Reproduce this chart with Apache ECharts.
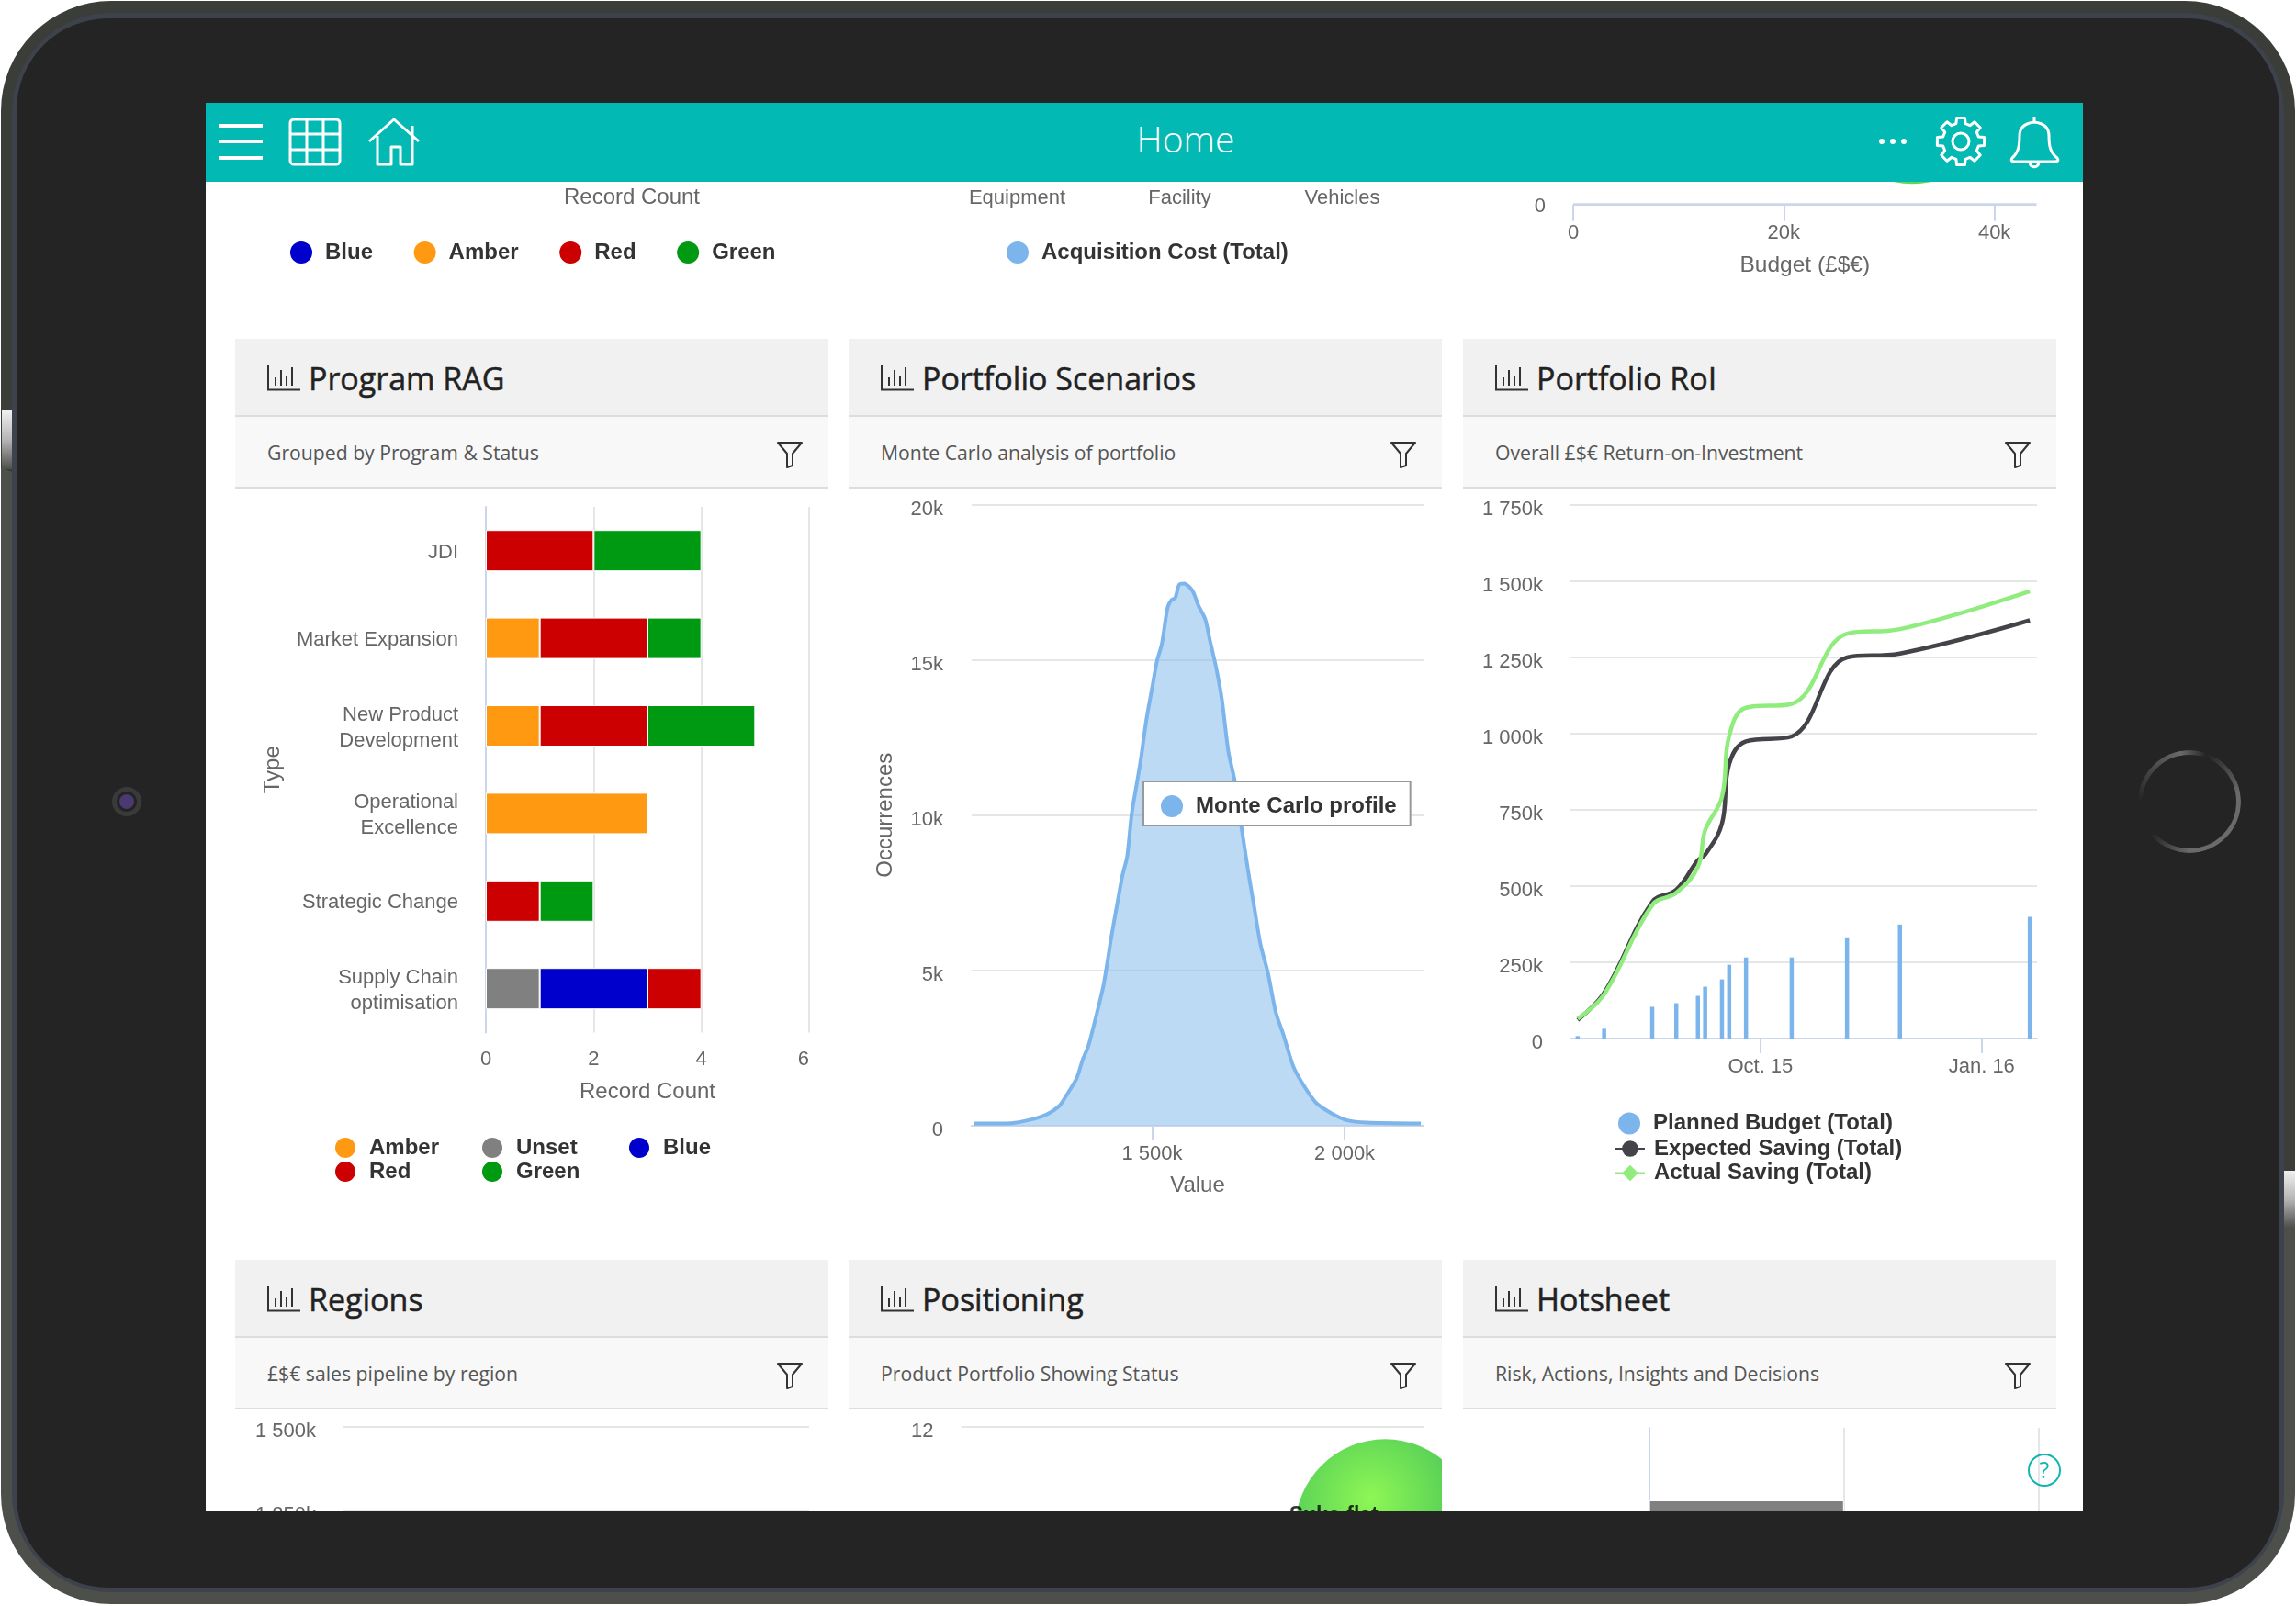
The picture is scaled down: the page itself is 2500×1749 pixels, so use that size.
<!DOCTYPE html>
<html>
<head>
<meta charset="utf-8">
<title>Home</title>
<script src="https://cdn.jsdelivr.net/npm/echarts@6/dist/echarts.min.js"></script>
<style>
html, body { margin: 0; padding: 0; background: #fff; }
#page { position: absolute; left: 0; top: 0; width: 2500px; height: 1749px; overflow: hidden; background: #fff; }
.abs { position: absolute; }
#shell { left: 1px; top: 1px; width: 2498px; height: 1746px; border-radius: 120px; background: linear-gradient(198.3deg, #3a3d38 51.9%, #4d4f4b 51.9%); }
#stripe { left: 13px; top: 14px; width: 2474px; height: 1720px; border-radius: 108px; background: #3e424c; }
#bezel { left: 18px; top: 20px; width: 2464px; height: 1709px; border-radius: 100px; background: #242424; }
#btnL { left: 2px; top: 447px; width: 11px; height: 64px; background: linear-gradient(180deg, #f0f0f0, #b5b5b5 50%, #4d4f4b); }
#btnR { left: 2487px; top: 1275px; width: 12px; height: 62px; background: linear-gradient(180deg, #f0f0f0, #b5b5b5 50%, #4d4f4b); }
#cam { left: 122px; top: 857px; width: 32px; height: 32px; border-radius: 50%; background: #3a3a3a; }
#cam div { position: absolute; left: 8px; top: 8px; width: 16px; height: 16px; border-radius: 50%; background: #4a3a72; box-shadow: 0 0 0 3px #232323; }
#homeBtn { left: 2328px; top: 817px; width: 112px; height: 112px; border-radius: 50%; box-sizing: border-box; border: 5px solid #6a6a6a;
  -webkit-mask: conic-gradient(from 20deg, transparent 0, #000 60deg, #000 160deg, transparent 210deg, transparent 250deg, #000 330deg, transparent 360deg); }
#screen { left: 224px; top: 112px; width: 2044px; height: 1534px; overflow: hidden; background: #fff; }
#bar { left: 0; top: 0; width: 2044px; height: 86px; background: #02b9b3; z-index: 5; }
#bar svg { position: absolute; left: 0; top: 0; }
#homeTitle { left: 0; width: 2134px; top: 0; text-align: center; color: #fff; font: 300 39px/78px 'Open Sans', Lato, sans-serif; }
.phead { box-sizing: border-box; height: 85px; background: #f1f1f1; border-bottom: 2px solid #ddd; }
.psub { box-sizing: border-box; height: 78px; background: #f8f8f8; border-bottom: 2px solid #ddd; }
.ptitle { position: absolute; left: 80px; top: 13px; color: #222; font: 400 34px/60px 'Open Sans', sans-serif; -webkit-text-stroke: 0.5px #222; white-space: nowrap; }
.ptext { position: absolute; left: 35px; top: 85px; color: #555; font: 400 21.2px/77px 'Open Sans', sans-serif; white-space: nowrap; }
.chart { position: absolute; overflow: hidden; }
</style>
</head>
<body>
<div id="page">
  <div class="abs" id="shell"></div>
  <div class="abs" id="stripe"></div>
  <div class="abs" id="bezel"></div>
  <div class="abs" id="btnL"></div>
  <div class="abs" id="btnR"></div>
  <div class="abs" id="cam"><div></div></div>
  <div class="abs" id="homeBtn"></div>
  <div class="abs" id="screen">
    <div class="abs" id="bar">
      <svg id="barIcons" width="2044" height="86" fill="none" stroke="#fff" stroke-width="3"></svg>
      <div class="abs" id="homeTitle">Home</div>
    </div>
  </div>
</div>
<script>
'use strict'

// Program RAG
var ragCategories = ['JDI', 'Market Expansion', 'New Product\nDevelopment', 'Operational\nExcellence', 'Strategic Change', 'Supply Chain\noptimisation']
var ragUnset = [null, null, null, null, null, 1]
var ragAmber = [null, 1, 1, 3, null, null]
var ragBlue = [null, null, null, null, null, 2]
var ragRed = [2, 2, 2, null, 1, 1]
var ragGreen = [2, 1, 2, null, 1, null]

// Portfolio Scenarios, value in k and number of occurrences
var monteValues = [1038, 1134, 1184, 1224, 1259, 1279, 1304, 1319, 1334, 1354, 1374, 1394, 1410, 1423, 1435, 1447, 1460, 1470, 1485, 1500, 1513, 1525, 1540, 1550, 1560, 1570, 1583, 1605, 1620, 1638, 1651, 1666, 1681, 1698, 1716, 1731, 1751, 1766, 1781, 1801, 1821, 1841, 1867, 1897, 1927, 1967, 2007, 2057, 2198]
var monteCounts = [60, 70, 180, 340, 630, 1000, 1520, 2100, 2550, 3500, 4540, 6080, 7190, 8070, 8660, 10060, 11020, 11750, 13080, 14110, 15000, 15510, 16690, 16940, 17010, 17430, 17470, 17230, 16760, 16320, 15580, 14770, 13740, 12050, 11020, 9690, 8070, 6970, 5860, 4900, 3650, 2920, 1890, 1220, 710, 380, 160, 90, 60]
var monteTicks = [1500, 2000]

// Portfolio RoI, all in k
var roiDates = ['2015-07-17', '2015-07-28', '2015-08-17', '2015-08-27', '2015-09-05', '2015-09-08', '2015-09-15', '2015-09-18', '2015-09-25', '2015-10-14', '2015-11-06', '2015-11-28', '2016-01-21']
var roiPlanned = [8, 32, 104, 116, 140, 170, 194, 242, 266, 266, 332, 374, 399]
var roiExpected = [61, 150, 448, 488, 585, 603, 705, 900, 975, 991, 1250, 1263, 1372]
var roiActual = [65, 145, 438, 478, 563, 683, 793, 993, 1085, 1098, 1328, 1343, 1467]
var roiTicks = ['2015-10-01', '2016-01-01']
var roiTickLabels = ['Oct. 15', 'Jan. 16']

// fragments at the top and bottom of the scrolled page
var costCategories = ['Equipment', 'Facility', 'Vehicles']
var budgetTicks = [0, 20000, 40000]
var budgetBubble = [[32200, 6.6]]
var positionBubble = [[91.7, 10.14, 'Suko flat']]
var hotsheetValues = [1, null, null, null]

var panels = [
    ['Program RAG', 'Grouped by Program & Status', 256, 369],
    ['Portfolio Scenarios', 'Monte Carlo analysis of portfolio', 924, 369],
    ['Portfolio RoI', 'Overall £$€ Return-on-Investment', 1593, 369],
    ['Regions', '£$€ sales pipeline by region', 256, 1372],
    ['Positioning', 'Product Portfolio Showing Status', 924, 1372],
    ['Hotsheet', 'Risk, Actions, Insights and Decisions', 1593, 1372]
]

var AXIS = '#ccd6eb'
var GRID = '#e6e6e6'
var LABEL = '#666666'
var FONT = "'Liberation Sans', Arial, sans-serif"
var screenEl = document.getElementById('screen')

function panel(p) {
    var el = document.createElement('div')
    el.className = 'abs'
    el.style.left = (p[2] - 224) + 'px'
    el.style.top = (p[3] - 112) + 'px'
    el.style.width = '646px'
    el.innerHTML = '<div class="phead"></div><div class="psub"></div>' +
        '<svg class="abs" style="left:35px;top:29px" width="36" height="28" fill="none" stroke="#333" stroke-width="2">' +
        '<path d="M1 0V26.5H36M9 22V13M15 22V5M21 22V11M27 22V2"/></svg>' +
        '<div class="ptitle"></div><div class="ptext"></div>' +
        '<svg class="abs" style="left:589px;top:111px" width="30" height="30" fill="none" stroke="#333" stroke-width="2">' +
        '<path d="M2 2H28L18 14V27L12 29V14Z" stroke-linejoin="round"/></svg>'
    el.querySelector('.ptitle').textContent = p[0]
    el.querySelector('.ptext').textContent = p[1]
    screenEl.appendChild(el)
}

// left and top in page pixels, same numbers
function chart(left, top, width, height, option) {
    var el = document.createElement('div')
    el.className = 'chart'
    el.style.left = (left - 224) + 'px'
    el.style.top = (top - 112) + 'px'
    el.style.width = width + 'px'
    el.style.height = height + 'px'
    screenEl.appendChild(el)
    option.animation = false
    option.textStyle = { fontFamily: FONT }
    echarts.init(el).setOption(option)
}

function legendText(left) {
    return { color: '#333', fontWeight: 'bold', fontSize: 24, fontFamily: FONT, padding: [6, 0, 0, left] }
}

function legendStyle(extra) {
    var o = {
        orient: 'vertical', icon: 'circle', itemWidth: 24, itemHeight: 24, itemGap: 0, selectedMode: false,
        padding: 0, textStyle: legendText(9)
    }
    for (var k in extra) o[k] = extra[k]
    return o
}

function fmtK(v) {
    if (v == 0) return '0'
    if (v < 1000) return v + 'k'
    return Math.floor(v / 1000) + ' ' + String(v % 1000).padStart(3, '0') + 'k'
}

// the value labels sit a few pixels under their grid line
function valueLabels(margin, fmt) {
    return { color: LABEL, fontSize: 22, margin: margin, formatter: fmt, verticalAlign: 'top', lineHeight: 10 }
}

var noTick = { show: false }
var gridLine = { show: true, lineStyle: { color: GRID, width: 2 } }
var nameFont = { color: LABEL, fontSize: 24 }

function icons() {
    var s = ''
    // menu, table, house
    s += '<path stroke-width="4" d="M14 25H62M14 42H62M14 60H62"/>'
    s += '<rect x="92" y="18" width="54" height="49" rx="4"/><path d="M92 34H146M92 51H146M110 18V67M128 18V67"/>'
    s += '<path d="M178 42L205 18L232 42M187 36V67H202V48H212V67H225V25" stroke-linejoin="round"/>'
    // dots
    s += '<circle cx="1825" cy="42" r="3" fill="#fff" stroke="none"/><circle cx="1837" cy="42" r="3" fill="#fff" stroke="none"/><circle cx="1849" cy="42" r="3" fill="#fff" stroke="none"/>'
    // gear
    var d = ''
    for (var i = 0; i < 8; i++) {
        var a = i * Math.PI / 4
        var pts = [[-0.26, 20], [-0.17, 26], [0.17, 26], [0.26, 20]]
        pts.forEach(function (q, j) {
            d += (i == 0 && j == 0 ? 'M' : 'L') + (1911 + q[1] * Math.cos(a + q[0])).toFixed(1) + ' ' + (42 + q[1] * Math.sin(a + q[0])).toFixed(1)
        })
    }
    s += '<path d="' + d + 'Z" stroke-linejoin="round"/><circle cx="1911" cy="42" r="9"/>'
    // bell
    s += '<path d="M1967 60C1974 54 1975 46 1975 36C1975 26 1982 22 1991 21C2000 22 2007 26 2007 36C2007 46 2008 54 2016 60C2018 63 2016 64 2013 64H1970C1967 64 1965 63 1967 60Z" stroke-linejoin="round"/>'
    s += '<path d="M1991 15V21M1986 66C1988 71 1994 71 1996 66"/>'
    document.getElementById('barIcons').innerHTML = s
}

icons()
panels.forEach(panel)

// top fragment of the status chart, its plot sits behind the header
chart(256, 112, 646, 200, {
    grid: { left: 272, width: 320, top: 0, height: 53 },
    xAxis: { type: 'value', min: 0, max: 6, axisLabel: { show: false }, splitLine: { show: false }, name: 'Record Count', nameLocation: 'middle', nameGap: 38, nameTextStyle: nameFont },
    yAxis: { type: 'category', data: [], axisLine: { show: false }, axisLabel: { show: false }, axisTick: noTick },
    legend: legendStyle({ orient: 'horizontal', left: 60, top: 151, itemGap: 44.6, data: ['Blue', 'Amber', 'Red', 'Green'] }),
    series: [
        { name: 'Blue', type: 'bar', stack: 'a', data: [], itemStyle: { color: '#0000cc' } },
        { name: 'Amber', type: 'bar', stack: 'a', data: [], itemStyle: { color: '#ff9912' } },
        { name: 'Red', type: 'bar', stack: 'a', data: [], itemStyle: { color: '#cc0000' } },
        { name: 'Green', type: 'bar', stack: 'a', data: [], itemStyle: { color: '#009912' } }
    ]
})

chart(924, 112, 646, 200, {
    grid: { left: 95, width: 531, top: 0, height: 68 },
    xAxis: { type: 'category', data: costCategories, axisLine: { show: false }, axisTick: noTick, axisLabel: { color: LABEL, fontSize: 22, margin: 25 } },
    yAxis: { type: 'value', show: false },
    legend: legendStyle({ left: 172, top: 151, data: ['Acquisition Cost (Total)'] }),
    series: [{ name: 'Acquisition Cost (Total)', type: 'bar', data: [], itemStyle: { color: '#7cb5ec' } }]
})

chart(1593, 0, 645, 320, {
    grid: { left: 120, width: 504.5, top: 0, height: 222.7 },
    xAxis: {
        type: 'value', min: 0, max: 44000, axisLine: { show: false }, splitLine: { show: false },
        axisTick: { show: true, length: 18, customValues: budgetTicks, lineStyle: { color: AXIS, width: 2 } },
        axisLabel: { color: LABEL, fontSize: 22, margin: 20, customValues: budgetTicks, formatter: function (v) { return v == 0 ? '0' : v / 1000 + 'k' } },
        name: 'Budget (£$€)', nameLocation: 'middle', nameGap: 54, nameTextStyle: { color: LABEL, fontSize: 24.5 }
    },
    yAxis: {
        type: 'value', min: 0, max: 12, splitLine: { show: false }, axisTick: noTick,
        axisLine: { show: false }, axisLabel: { color: LABEL, fontSize: 22, margin: 30, customValues: [0], verticalAlign: 'top', lineHeight: 4 }
    },
    series: [
        { type: 'line', data: [[0, 0], [44000, 0]], symbol: 'none', lineStyle: { color: AXIS, width: 3 } },
        { type: 'scatter', clip: false, data: budgetBubble, symbolSize: 200, itemStyle: { color: '#36cc2e' } }
    ]
})

// Program RAG, the second grid only carries the category labels 2px lower than the bars
chart(256, 530, 646, 800, {
    grid: [
        { left: 273, width: 352, top: 22, height: 572.4 },
        { left: 273, width: 352, top: 24, height: 572.4 }
    ],
    xAxis: [
        {
            type: 'value', min: 0, max: 6, interval: 2, splitLine: gridLine, axisLine: { show: false }, axisTick: noTick,
            axisLabel: { color: LABEL, fontSize: 22, margin: 19, alignMaxLabel: 'right' },
            name: 'Record Count', nameLocation: 'middle', nameGap: 53, nameTextStyle: nameFont
        },
        { type: 'value', gridIndex: 1, show: false }
    ],
    yAxis: [
        {
            type: 'category', inverse: true, data: ragCategories, axisTick: noTick,
            axisLine: { lineStyle: { color: AXIS, width: 2 } }, axisLabel: { show: false },
            name: 'Type', nameLocation: 'middle', nameGap: 220, nameTextStyle: nameFont
        },
        {
            type: 'category', gridIndex: 1, inverse: true, data: ragCategories, axisTick: noTick, axisLine: { show: false },
            axisLabel: { color: LABEL, fontSize: 22, lineHeight: 28, margin: 30 }
        }
    ],
    legend: [
        legendStyle({ left: 107, top: 707, data: ['Amber', 'Red'] }),
        legendStyle({ left: 267, top: 707, data: ['Unset', 'Green'] }),
        legendStyle({ left: 427, top: 707, data: ['Blue'] })
    ],
    series: [
        ['Unset', ragUnset, '#808080'], ['Amber', ragAmber, '#ff9912'], ['Blue', ragBlue, '#0000cc'],
        ['Red', ragRed, '#cc0000'], ['Green', ragGreen, '#009912']
    ].map(function (s) {
        return { name: s[0], type: 'bar', stack: 'rag', barWidth: 45, data: s[1], itemStyle: { color: s[2], borderColor: '#fff', borderWidth: 1 } }
    })
})

// Portfolio Scenarios
chart(924, 530, 646, 800, {
    grid: { left: 134, width: 492, top: 20, height: 675.5 },
    xAxis: {
        type: 'value', min: 1031, max: 2205, splitLine: { show: false },
        axisLine: { lineStyle: { color: AXIS, width: 2 } },
        axisTick: { show: true, length: 16, customValues: monteTicks, lineStyle: { color: AXIS, width: 2 } },
        axisLabel: { color: LABEL, fontSize: 22, margin: 20, customValues: monteTicks, formatter: fmtK },
        name: 'Value', nameLocation: 'middle', nameGap: 54, nameTextStyle: nameFont
    },
    yAxis: {
        type: 'value', min: 0, max: 20000, interval: 5000, splitLine: gridLine, axisLine: { show: false }, axisTick: noTick,
        axisLabel: valueLabels(31, function (v) { return v == 0 ? '0' : v / 1000 + 'k' }),
        name: 'Occurrences', nameLocation: 'middle', nameGap: 82, nameTextStyle: nameFont
    },
    legend: legendStyle({
        left: 321, top: 321, padding: [15, 15, 9, 19], backgroundColor: '#fff', borderColor: '#999', borderWidth: 2,
        data: ['Monte Carlo profile']
    }),
    series: [{
        name: 'Monte Carlo profile', type: 'line', smooth: 0.25, symbol: 'none',
        data: monteValues.map(function (v, i) { return [v, monteCounts[i]] }),
        lineStyle: { color: '#7cb5ec', width: 4 }, itemStyle: { color: '#7cb5ec' },
        areaStyle: { color: '#7cb5ec', opacity: 0.5 }
    }]
})

// Portfolio RoI, x is a plain number scale of timestamps so the two ticks can be named
var roiTickTimes = roiTicks.map(function (d) { return Date.parse(d) })
function roiPairs(values) {
    return roiDates.map(function (d, i) { return [Date.parse(d), values[i]] })
}
chart(1593, 530, 645, 800, {
    grid: { left: 117, width: 508, top: 20, height: 581 },
    xAxis: {
        type: 'value', min: Date.parse('2015-07-14'), max: Date.parse('2016-01-24'), splitLine: { show: false },
        axisLine: { lineStyle: { color: AXIS, width: 2 } },
        axisTick: { show: true, length: 16, customValues: roiTickTimes, lineStyle: { color: AXIS, width: 2 } },
        axisLabel: {
            color: LABEL, fontSize: 22, margin: 20, customValues: roiTickTimes,
            formatter: function (v) { return roiTickLabels[roiTickTimes.indexOf(+v)] || '' }
        }
    },
    yAxis: {
        type: 'value', min: 0, max: 1750, interval: 250, splitLine: gridLine, axisLine: { show: false }, axisTick: noTick,
        axisLabel: valueLabels(30, fmtK)
    },
    legend: [
        legendStyle({ left: 169, top: 681.5, itemWidth: 32, textStyle: legendText(5), data: ['Planned Budget (Total)'] }),
        legendStyle({ left: 165, top: 709, itemWidth: 32, itemHeight: 22, itemGap: 2.5, icon: null, textStyle: legendText(5), data: ['Expected Saving (Total)', 'Actual Saving (Total)'] })
    ],
    series: [
        { name: 'Planned Budget (Total)', type: 'bar', barWidth: 4.5, data: roiPairs(roiPlanned), itemStyle: { color: '#7cb5ec' } },
        { name: 'Expected Saving (Total)', type: 'line', smooth: 0.4, symbol: 'circle', showSymbol: false, data: roiPairs(roiExpected), lineStyle: { color: '#434348', width: 4.5 }, itemStyle: { color: '#434348' } },
        { name: 'Actual Saving (Total)', type: 'line', smooth: 0.4, symbol: 'diamond', showSymbol: false, data: roiPairs(roiActual), lineStyle: { color: '#90ed7d', width: 4.5 }, itemStyle: { color: '#90ed7d' } }
    ]
})

// fragments below the fold
chart(256, 1533, 646, 700, {
    grid: { left: 118, width: 507, top: 20.7, height: 548 },
    xAxis: { type: 'value', show: false },
    yAxis: { type: 'value', min: 0, max: 1500, interval: 250, splitLine: gridLine, axisLine: { show: false }, axisTick: noTick, axisLabel: valueLabels(30, fmtK) }
})

chart(924, 1533, 646, 800, {
    grid: { left: 122.5, width: 503.5, top: 20.7, height: 720 },
    xAxis: { type: 'value', min: 0, max: 100, show: false },
    yAxis: { type: 'value', min: 0, max: 12, interval: 2, splitLine: gridLine, axisLine: { show: false }, axisTick: noTick, axisLabel: valueLabels(30) },
    series: [{
        type: 'scatter', clip: false, data: positionBubble, symbolSize: 196,
        itemStyle: {
            color: { type: 'radial', x: 0.42, y: 0.33, r: 0.5, colorStops: [{ offset: 0, color: '#72f52a' }, { offset: 1, color: '#28c02e' }] }
        },
        label: {
            show: true, position: 'inside', offset: [-56, -15], color: '#000', fontWeight: 'bold', fontSize: 23,
            formatter: function (p) { return p.value[2] }
        }
    }]
})

chart(1593, 1533, 645, 1000, {
    grid: { left: 202.6, width: 424.4, top: 22, height: 800 },
    xAxis: { type: 'value', min: 0, max: 2, interval: 1, axisLine: { show: false }, axisLabel: { show: false }, axisTick: noTick, splitLine: gridLine },
    yAxis: { type: 'category', inverse: true, data: ['', '', '', ''], axisTick: noTick, axisLabel: { show: false }, axisLine: { lineStyle: { color: AXIS, width: 2 } } },
    series: [{ type: 'bar', barWidth: 42, data: hotsheetValues, itemStyle: { color: '#808080', borderColor: '#fff', borderWidth: 1 } }]
})

// help button floats over the page
var help = document.createElement('div')
help.className = 'abs'
help.style.cssText = 'left:1984px;top:1471px;width:36px;height:36px;box-sizing:border-box;border:2.5px solid #12b5b0;border-radius:50%;background:transparent;color:#12b5b0;text-align:center;font:400 25px/31px "Open Sans",sans-serif;z-index:6'
help.textContent = '?'
screenEl.appendChild(help)
</script>
</body>
</html>
